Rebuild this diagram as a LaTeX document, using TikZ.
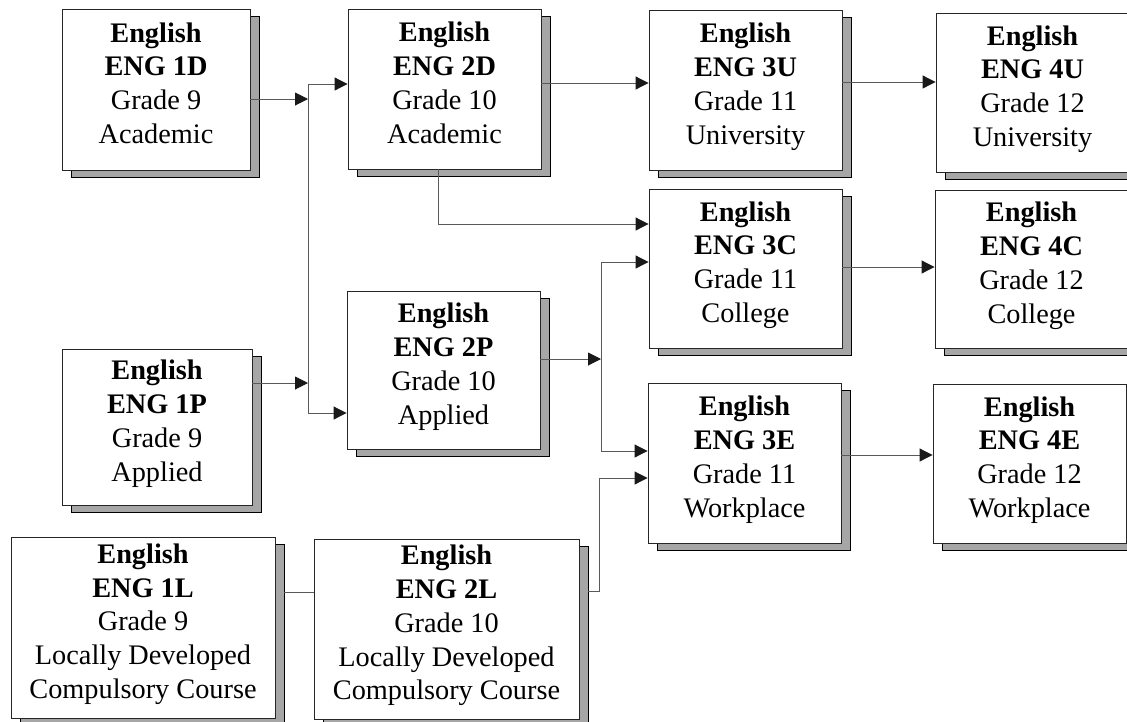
\documentclass[tikz,border=0pt]{standalone}
\usepackage{fontspec}
\setmainfont{Liberation Serif}
\usetikzlibrary{arrows.meta,shadows,calc}
\begin{document}
\begin{tikzpicture}[x=1pt,y=-1pt,
  coursebox/.style={draw=black!85,line width=0.9pt,fill=white,inner sep=0pt,align=center,
    font=\fontsize{28.3}{33.8}\selectfont,text depth=13pt,
    drop shadow={shadow xshift=9pt,shadow yshift=-7pt,opacity=1,fill=black!35,draw=black,line width=0.9pt}},
  conn/.style={draw=black!65,line width=1pt},
  arr/.style={conn,-{Triangle[length=13pt,width=13pt,black!90]}}]
\useasboundingbox (0,0) rectangle (1127,721);
\node[coursebox,minimum width=188pt,minimum height=161pt] (d1) at (156,89.5) {\textbf{English}\\\textbf{ENG 1D}\\Grade 9\\Academic};
\node[coursebox,minimum width=193pt,minimum height=160pt] (d2) at (444.5,89) {\textbf{English}\\\textbf{ENG 2D}\\Grade 10\\Academic};
\node[coursebox,minimum width=193pt,minimum height=160pt] (u3) at (745.5,90) {\textbf{English}\\\textbf{ENG 3U}\\Grade 11\\University};
\node[coursebox,minimum width=193pt,minimum height=159pt] (u4) at (1032.5,92.5) {\textbf{English}\\\textbf{ENG 4U}\\Grade 12\\University};
\node[coursebox,minimum width=193pt,minimum height=159pt] (c3) at (745.5,268.5) {\textbf{English}\\\textbf{ENG 3C}\\Grade 11\\College};
\node[coursebox,minimum width=193pt,minimum height=158pt] (c4) at (1031.5,269) {\textbf{English}\\\textbf{ENG 4C}\\Grade 12\\College};
\node[coursebox,minimum width=193pt,minimum height=158pt] (p2) at (443.5,370) {\textbf{English}\\\textbf{ENG 2P}\\Grade 10\\Applied};
\node[coursebox,minimum width=190pt,minimum height=156pt] (p1) at (157,427) {\textbf{English}\\\textbf{ENG 1P}\\Grade 9\\Applied};
\node[coursebox,minimum width=193pt,minimum height=160pt] (e3) at (744.5,463) {\textbf{English}\\\textbf{ENG 3E}\\Grade 11\\Workplace};
\node[coursebox,minimum width=193pt,minimum height=159pt] (e4) at (1029.5,463.5) {\textbf{English}\\\textbf{ENG 4E}\\Grade 12\\Workplace};
\node[coursebox,minimum width=264pt,minimum height=181pt] (l1) at (143,627.5) {\textbf{English}\\\textbf{ENG 1L}\\Grade 9\\Locally Developed\\Compulsory Course};
\node[coursebox,minimum width=265pt,minimum height=180pt] (l2) at (446.5,629) {\textbf{English}\\\textbf{ENG 2L}\\Grade 10\\Locally Developed\\Compulsory Course};
% junction points
\coordinate (ja) at (308,99);
\coordinate (jt) at (308,84);
\coordinate (jb) at (308,413);
\coordinate (jp) at (308,383);
\coordinate (k2) at (438,224);
\coordinate (m) at (601,359);
\coordinate (mt) at (601,262);
\coordinate (mb) at (601,451);
\coordinate (n) at (599,591);
\coordinate (nt) at (599,478);
% connectors
\draw[arr] (d1.east |- ja) -- (ja);
\draw[arr] (p1.east |- jp) -- (jp);
\draw[conn] (jt) -- (jb);
\draw[arr] (jt) -- (jt -| d2.west);
\draw[arr] (jb) -- (jb -| p2.west);
\draw[arr] (d2.east |- 0,83) -- (u3.west |- 0,83);
\draw[arr] (u3.east |- 0,82) -- (u4.west |- 0,82);
\draw[arr] (d2.south -| k2) -- (k2) -- (k2 -| c3.west);
\draw[arr] (p2.east |- m) -- (m);
\draw[conn] (mt) -- (mb);
\draw[arr] (mt) -- (mt -| c3.west);
\draw[arr] (mb) -- (mb -| e3.west);
\draw[arr] ([xshift=9pt]l2.east |- n) -- (n) -- (nt) -- (nt -| e3.west);
\draw[conn] ([xshift=9pt]l1.east |- 0,592) -- (l2.west |- 0,592);
\draw[arr] (c3.east |- 0,267) -- (c4.west |- 0,267);
\draw[arr] (e3.east |- 0,455) -- (e4.west |- 0,455);
\end{tikzpicture}
\end{document}
